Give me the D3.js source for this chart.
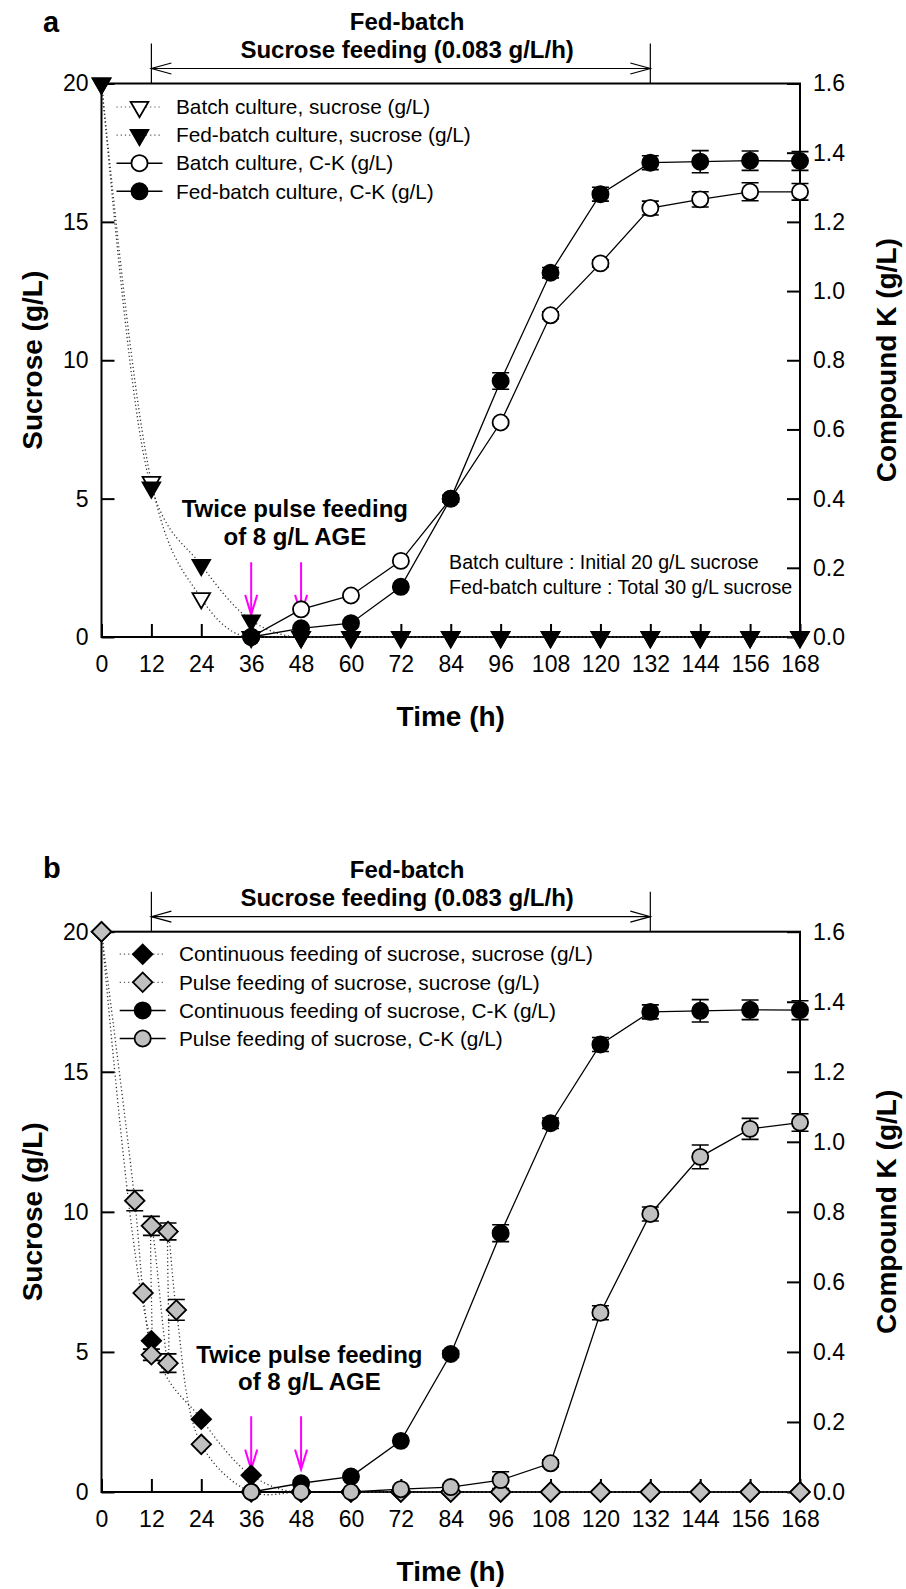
<!DOCTYPE html>
<html>
<head>
<meta charset="utf-8">
<script src="https://cdnjs.cloudflare.com/ajax/libs/d3/7.8.5/d3.min.js"></script>
<style>
  body { margin: 0; background: #fff; }
  svg { display: block; }
</style>
</head>
<body>
<div id="chart"></div>
<script>
// axis ticks
const timeTicks = [0, 12, 24, 36, 48, 60, 72, 84, 96, 108, 120, 132, 144, 156, 168];
const sucroseTicks = [0, 5, 10, 15, 20];
const ckTicks = [0, 0.2, 0.4, 0.6, 0.8, 1.0, 1.2, 1.4, 1.6];

// sampling times
const timeFull = [0, 12, 24, 36, 48, 60, 72, 84, 96, 108, 120, 132, 144, 156, 168];
const timeCK = [36, 48, 60, 72, 84, 96, 108, 120, 132, 144, 156, 168];

// panel a
const batchSucrose = [20, 5.6, 1.4, 0, 0, 0, 0, 0, 0, 0, 0, 0, 0, 0, 0];
const fedSucrose = [20, 5.4, 2.6, 0.6, 0, 0, 0, 0, 0, 0, 0, 0, 0, 0, 0];
const batchCK = [0, 0.08, 0.12, 0.22, 0.40, 0.62, 0.93, 1.08, 1.24, 1.265, 1.287, 1.287];
const batchCKErr = [0, 0, 0, 0, 0, 0, 0.01, 0.01, 0.02, 0.022, 0.026, 0.024];
const fedCK = [0, 0.025, 0.04, 0.145, 0.40, 0.74, 1.053, 1.28, 1.371, 1.374, 1.377, 1.376];
const fedCKErr = [0, 0, 0, 0, 0.01, 0.024, 0.015, 0.02, 0.02, 0.032, 0.028, 0.027];

// panel b
const contSucrose = [20, 5.4, 2.6, 0.6, 0, 0, 0, 0, 0, 0, 0, 0, 0, 0, 0];
const pulseTime = [0, 8, 10, 12, 12, 16, 16, 18, 24, 36, 48, 60, 72, 84, 96, 108, 120, 132, 144, 156, 168];
const pulseSucrose = [20, 10.4, 7.1, 4.9, 9.5, 4.6, 9.3, 6.5, 1.7, 0, 0, 0, 0, 0, 0, 0, 0, 0, 0, 0, 0];
const pulseSucroseErr = [0, 0.36, 0, 0.2, 0.34, 0.33, 0.3, 0.37, 0, 0, 0, 0, 0, 0, 0, 0, 0, 0, 0, 0, 0];
const contCK = [0, 0.025, 0.044, 0.146, 0.394, 0.739, 1.053, 1.278, 1.371, 1.374, 1.377, 1.376];
const contCKErr = [0, 0, 0, 0, 0.01, 0.024, 0.015, 0.02, 0.02, 0.032, 0.028, 0.027];
const pulseCK = [0, 0, 0, 0.008, 0.014, 0.034, 0.082, 0.512, 0.794, 0.957, 1.037, 1.055];
const pulseCKErr = [0, 0, 0, 0, 0, 0.024, 0.01, 0.02, 0.02, 0.034, 0.03, 0.025];

const feedStart = 12, feedEnd = 132;
const pulseTimes = [36, 48];

const FONT = '"Liberation Sans", Arial, Helvetica, sans-serif';
const GRAY = "#c0c0c0";
const plotLeft = 101.5, plotRight = 800;

const svg = d3.select("#chart").append("svg")
    .attr("width", 906)
    .attr("height", 1589)
    .attr("font-family", FONT);

const panels = [
    {
        letter: "a", top: 83.5, bottom: 637, letterDy: -52,
        legendSym: 139.5, legendText: 176, legendY: 23.5,
        noteT: 46.5, noteY: [4.35, 3.32],
        sucrose: [
            { t: timeFull, v: batchSucrose, shape: "triangle", fill: "#fff", curve: "mono" },
            { t: timeFull, v: fedSucrose, shape: "triangle", fill: "#000", curve: "mono" }
        ],
        ck: [
            { t: timeCK, v: batchCK, err: batchCKErr, shape: "circle", fill: "#fff" },
            { t: timeCK, v: fedCK, err: fedCKErr, shape: "circle", fill: "#000" }
        ],
        legend: [
            { label: "Batch culture, sucrose (g/L)", shape: "triangle", fill: "#fff", dotted: true },
            { label: "Fed-batch culture, sucrose (g/L)", shape: "triangle", fill: "#000", dotted: true },
            { label: "Batch culture, C-K (g/L)", shape: "circle", fill: "#fff", dotted: false },
            { label: "Fed-batch culture, C-K (g/L)", shape: "circle", fill: "#000", dotted: false }
        ],
        info: ["Batch culture : Initial 20 g/L sucrose", "Fed-batch culture : Total 30 g/L sucrose"]
    },
    {
        letter: "b", top: 931.7, bottom: 1492, letterDy: -54,
        legendSym: 142.7, legendText: 179, legendY: 22.5,
        noteT: 50, noteY: [4.6, 3.64],
        sucrose: [
            { t: timeFull, v: contSucrose, shape: "diamond", fill: "#000", curve: "mono" },
            { t: pulseTime, v: pulseSucrose, err: pulseSucroseErr, shape: "diamond", fill: GRAY, curve: "cr" }
        ],
        ck: [
            { t: timeCK, v: contCK, err: contCKErr, shape: "circle", fill: "#000" },
            { t: timeCK, v: pulseCK, err: pulseCKErr, shape: "circle", fill: GRAY }
        ],
        legend: [
            { label: "Continuous feeding of sucrose, sucrose (g/L)", shape: "diamond", fill: "#000", dotted: true },
            { label: "Pulse feeding of sucrose, sucrose (g/L)", shape: "diamond", fill: GRAY, dotted: true },
            { label: "Continuous feeding of sucrose, C-K (g/L)", shape: "circle", fill: "#000", dotted: false },
            { label: "Pulse feeding of sucrose, C-K (g/L)", shape: "circle", fill: GRAY, dotted: false }
        ],
        info: null
    }
];

function symbolPath(shape) {
    if (shape === "triangle") return d3.symbol().type(d3.symbolTriangle).size(135)();
    if (shape === "diamond") return d3.symbol().type(d3.symbolSquare).size(190)();
    return d3.symbol().type(d3.symbolCircle).size(205)();
}
function symbolRotate(shape) {
    return shape === "triangle" ? 180 : shape === "diamond" ? 45 : 0;
}

function drawMarker(g, shape, fill, cx, cy) {
    g.append("path")
        .attr("d", symbolPath(shape))
        .attr("transform", `translate(${cx},${cy}) rotate(${symbolRotate(shape)})`)
        .attr("fill", fill)
        .attr("stroke", "#000")
        .attr("stroke-width", 1.8);
}

function styleAxis(sel) {
    sel.select(".domain").remove();
    sel.selectAll(".tick line").attr("stroke", "#000").attr("stroke-width", 2);
    sel.selectAll(".tick text")
        .attr("font-size", 23)
        .attr("fill", "#000")
        .attr("font-family", FONT);
}

function drawPanel(p) {
    const x = d3.scaleLinear().domain([0, 168]).range([plotLeft, plotRight]);
    const ySuc = d3.scaleLinear().domain([0, 20]).range([p.bottom, p.top]);
    const yCK = d3.scaleLinear().domain([0, 1.6]).range([p.bottom, p.top]);
    const g = svg.append("g");
    const midY = (p.top + p.bottom) / 2;

    // axes, ticks pointing inward
    g.append("g")
        .attr("transform", `translate(0,${p.bottom})`)
        .call(d3.axisBottom(x).tickValues(timeTicks).tickSize(-13).tickPadding(19))
        .call(styleAxis);
    g.append("g")
        .attr("transform", `translate(${plotLeft},0)`)
        .call(d3.axisLeft(ySuc).tickValues(sucroseTicks).tickSize(-13).tickPadding(13))
        .call(styleAxis);
    g.append("g")
        .attr("transform", `translate(${plotRight},0)`)
        .call(d3.axisRight(yCK).tickValues(ckTicks).tickFormat(d3.format(".1f")).tickSize(-13).tickPadding(13))
        .call(styleAxis);

    g.append("rect")
        .attr("x", plotLeft).attr("y", p.top)
        .attr("width", plotRight - plotLeft).attr("height", p.bottom - p.top)
        .attr("fill", "none").attr("stroke", "#000").attr("stroke-width", 2);

    // axis titles
    g.append("text")
        .attr("x", (plotLeft + plotRight) / 2).attr("y", p.bottom + 89)
        .attr("text-anchor", "middle").attr("font-size", 28).attr("font-weight", "bold")
        .text("Time (h)");
    g.append("text")
        .attr("transform", `translate(42,${midY}) rotate(-90)`)
        .attr("text-anchor", "middle").attr("font-size", 28).attr("font-weight", "bold")
        .text("Sucrose (g/L)");
    g.append("text")
        .attr("transform", `translate(896,${midY}) rotate(-90)`)
        .attr("text-anchor", "middle").attr("font-size", 28).attr("font-weight", "bold")
        .text("Compound K (g/L)");

    // panel letter
    g.append("text")
        .attr("x", 43).attr("y", p.top + p.letterDy)
        .attr("font-size", 29).attr("font-weight", "bold")
        .text(p.letter);

    // fed-batch feeding period bracket
    const fx0 = x(feedStart), fx1 = x(feedEnd), fy = p.top - 15;
    [fx0, fx1].forEach(fx => {
        g.append("line")
            .attr("x1", fx).attr("x2", fx).attr("y1", p.top - 40).attr("y2", p.top)
            .attr("stroke", "#000").attr("stroke-width", 1.2);
    });
    g.append("line")
        .attr("x1", fx0).attr("x2", fx1).attr("y1", fy).attr("y2", fy)
        .attr("stroke", "#000").attr("stroke-width", 1.2);
    g.append("path")
        .attr("d", `M${fx0 + 20},${fy - 5.5} L${fx0},${fy} L${fx0 + 20},${fy + 5.5} M${fx1 - 20},${fy - 5.5} L${fx1},${fy} L${fx1 - 20},${fy + 5.5}`)
        .attr("fill", "none").attr("stroke", "#000").attr("stroke-width", 1.2);
    g.append("text")
        .attr("x", x(73.5)).attr("y", p.top - 54)
        .attr("text-anchor", "middle").attr("font-size", 24).attr("font-weight", "bold")
        .text("Fed-batch");
    g.append("text")
        .attr("x", x(73.5)).attr("y", p.top - 26)
        .attr("text-anchor", "middle").attr("font-size", 24).attr("font-weight", "bold")
        .text("Sucrose feeding (0.083 g/L/h)");

    // pulse feeding note + magenta arrows
    g.append("text")
        .attr("x", x(p.noteT)).attr("y", ySuc(p.noteY[0]))
        .attr("text-anchor", "middle").attr("font-size", 24).attr("font-weight", "bold")
        .text("Twice pulse feeding");
    g.append("text")
        .attr("x", x(p.noteT)).attr("y", ySuc(p.noteY[1]))
        .attr("text-anchor", "middle").attr("font-size", 24).attr("font-weight", "bold")
        .text("of 8 g/L AGE");
    pulseTimes.forEach(t => {
        const ax = x(t), a0 = ySuc(2.7), a1 = ySuc(0.8);
        g.append("path")
            .attr("d", `M${ax},${a0} L${ax},${a1} M${ax - 6},${a1 - 20} L${ax},${a1} L${ax + 6},${a1 - 20}`)
            .attr("fill", "none").attr("stroke", "#ff00ff").attr("stroke-width", 2);
    });

    if (p.info) {
        p.info.forEach((line, i) => {
            g.append("text")
                .attr("x", x(83.6)).attr("y", ySuc(2.44 - i * 0.87))
                .attr("font-size", 19.6)
                .text(line);
        });
    }

    // sucrose: dotted spline lines
    p.sucrose.forEach(s => {
        const pts = s.t.map((t, i) => ({ t, v: s.v[i] }));
        const line = d3.line()
            .x(d => x(d.t)).y(d => ySuc(d.v))
            .curve(s.curve === "mono" ? d3.curveMonotoneX : d3.curveCatmullRom.alpha(0.5));
        g.append("path")
            .attr("d", line(pts))
            .attr("fill", "none").attr("stroke", "#333")
            .attr("stroke-width", 1.3).attr("stroke-dasharray", "1.2,2.6");
    });

    // compound K: solid lines
    p.ck.forEach(s => {
        const pts = s.t.map((t, i) => ({ t, v: s.v[i] }));
        g.append("path")
            .attr("d", d3.line().x(d => x(d.t)).y(d => yCK(d.v))(pts))
            .attr("fill", "none").attr("stroke", "#000").attr("stroke-width", 1.3);
    });

    // error bars
    const errBars = (s, y) => {
        if (!s.err) return;
        s.t.forEach((t, i) => {
            const e = s.err[i];
            if (!e) return;
            const cx = x(t), y0 = y(s.v[i] - e), y1 = y(s.v[i] + e);
            g.append("path")
                .attr("d", `M${cx},${y0} L${cx},${y1} M${cx - 8.5},${y0} L${cx + 8.5},${y0} M${cx - 8.5},${y1} L${cx + 8.5},${y1}`)
                .attr("fill", "none").attr("stroke", "#000").attr("stroke-width", 1.6);
        });
    };
    p.sucrose.forEach(s => errBars(s, ySuc));
    p.ck.forEach(s => errBars(s, yCK));

    // markers
    p.sucrose.forEach(s => s.t.forEach((t, i) => drawMarker(g, s.shape, s.fill, x(t), ySuc(s.v[i]))));
    p.ck.forEach(s => s.t.forEach((t, i) => drawMarker(g, s.shape, s.fill, x(t), yCK(s.v[i]))));

    // legend
    p.legend.forEach((item, i) => {
        const ly = p.top + p.legendY + i * 28.1;
        g.append("line")
            .attr("x1", p.legendSym - 23).attr("x2", p.legendSym + 23)
            .attr("y1", ly).attr("y2", ly)
            .attr("stroke", item.dotted ? "#555" : "#000")
            .attr("stroke-width", item.dotted ? 1.2 : 1.5)
            .attr("stroke-dasharray", item.dotted ? "1.2,3" : null);
        drawMarker(g, item.shape, item.fill, p.legendSym, ly);
        g.append("text")
            .attr("x", p.legendText).attr("y", ly).attr("dy", "0.35em")
            .attr("font-size", 20.8)
            .text(item.label);
    });
}

panels.forEach(drawPanel);
</script>
</body>
</html>
